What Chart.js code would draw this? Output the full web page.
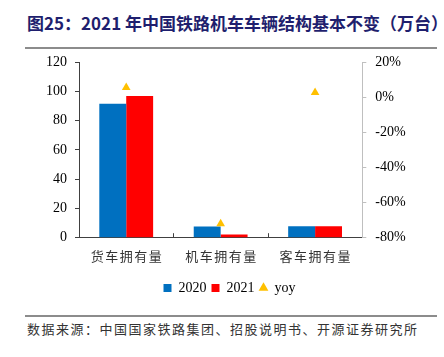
<!DOCTYPE html>
<html><head><meta charset="utf-8">
<script src="https://cdn.jsdelivr.net/npm/chart.js@4"></script>
<style>
body{margin:0;width:444px;height:357px;position:relative;background:#fff;overflow:hidden}
#title{position:absolute;left:27px;top:11px;font:bold 17px "Noto Sans CJK SC";color:#1f1f6e;white-space:nowrap;line-height:24px}
.rule{position:absolute;left:25px;width:412px;height:2px;background:#8c8c8c}
#src{position:absolute;left:27px;top:320px;font:13px "Noto Sans CJK SC";letter-spacing:1.5px;color:#333;white-space:nowrap;line-height:18px}
#wrap{position:absolute;left:0;top:0;width:444px;height:357px}
</style></head><body>
<div id="title">图25：2021 年中国铁路机车车辆结构基本不变（万台）</div>
<div class="rule" style="top:47px"></div>
<div class="rule" style="top:315px"></div>
<div id="src">数据来源：中国国家铁路集团、招股说明书、开源证券研究所</div>
<div id="wrap"><canvas id="c"></canvas></div>
<script>
const categories = ["货车拥有量", "机车拥有量", "客车拥有量"];
const values2020 = [91.5, 7.6, 7.8];
const values2021 = [96.8, 2.2, 7.8];
const yoy = [5.5, -72, 2.6];
const seriesNames = ["2020", "2021", "yoy"];

const numFont = {family: "'Liberation Serif', 'Times New Roman', serif", size: 14};

const catAxis = {
  id: 'catAxis',
  afterDatasetsDraw(chart) {
    const x = chart.scales.x, ctx = chart.ctx, b = chart.chartArea.bottom;
    ctx.save();
    ctx.strokeStyle = '#404040';
    ctx.lineWidth = 1;
    for (let i = 1; i < categories.length; i++) {
      const px = Math.round(x.getPixelForValue(i - 0.5)) + 0.5;
      ctx.beginPath();
      ctx.moveTo(px, b - 4.5);
      ctx.lineTo(px, b);
      ctx.stroke();
    }
    ctx.fillStyle = '#333';
    ctx.font = '13px "Noto Sans CJK SC"';
    ctx.letterSpacing = '1.5px';
    ctx.textAlign = 'center';
    ctx.textBaseline = 'middle';
    categories.forEach((c, i) => {
      ctx.fillText(c, x.getPixelForValue(i) + 0.75, b + 18.5);
    });
    ctx.restore();
  }
};

new Chart(document.getElementById('c'), {
  data: {
    labels: categories,
    datasets: [
      {type: 'bar', label: seriesNames[0], data: values2020, backgroundColor: '#0070C0', yAxisID: 'y', pointStyle: 'rect', order: 2,
       categoryPercentage: 0.57, barPercentage: 1.0},
      {type: 'bar', label: seriesNames[1], data: values2021, backgroundColor: '#FF0000', yAxisID: 'y', pointStyle: 'rect', order: 2,
       categoryPercentage: 0.57, barPercentage: 1.0},
      {type: 'line', label: seriesNames[2], data: yoy, yAxisID: 'y1', showLine: false, pointStyle: 'triangle',
       pointRadius: 5, pointHoverRadius: 5, backgroundColor: '#FFC000', borderColor: '#FFC000', borderWidth: 0, order: 1}
    ]
  },
  options: {
    responsive: true,
    maintainAspectRatio: false,
    animation: false,
    events: [],
    layout: {padding: {left: 15, right: 0, top: 62, bottom: 52}},
    plugins: {
      title: {display: false},
      tooltip: {enabled: false},
      legend: {
        position: 'bottom',
        labels: {usePointStyle: true, boxWidth: 8, boxHeight: 8, padding: 5, color: '#000', font: numFont,
                 sort: (a, b) => a.datasetIndex - b.datasetIndex}
      }
    },
    scales: {
      x: {
        grid: {display: false},
        border: {color: '#404040', width: 1},
        ticks: {display: false},
        afterFit(s) { s.height = 38.3; }
      },
      y: {
        position: 'left', min: 0, max: 120,
        ticks: {stepSize: 20, color: '#000', padding: 8, font: numFont},
        grid: {drawOnChartArea: false, drawTicks: true, tickLength: 4, color: '#404040'},
        border: {color: '#404040', width: 1},
        afterFit(s) { s.width = 64; }
      },
      y1: {
        position: 'right', min: -80, max: 20,
        ticks: {stepSize: 20, color: '#000', padding: 9, font: numFont, callback: v => v + '%'},
        grid: {drawOnChartArea: false, drawTicks: true, tickLength: 4, color: '#bfbfbf'},
        border: {color: '#bfbfbf', width: 1},
        afterFit(s) { s.width = 81.7; }
      }
    }
  },
  plugins: [catAxis]
});
</script>
</body></html>
